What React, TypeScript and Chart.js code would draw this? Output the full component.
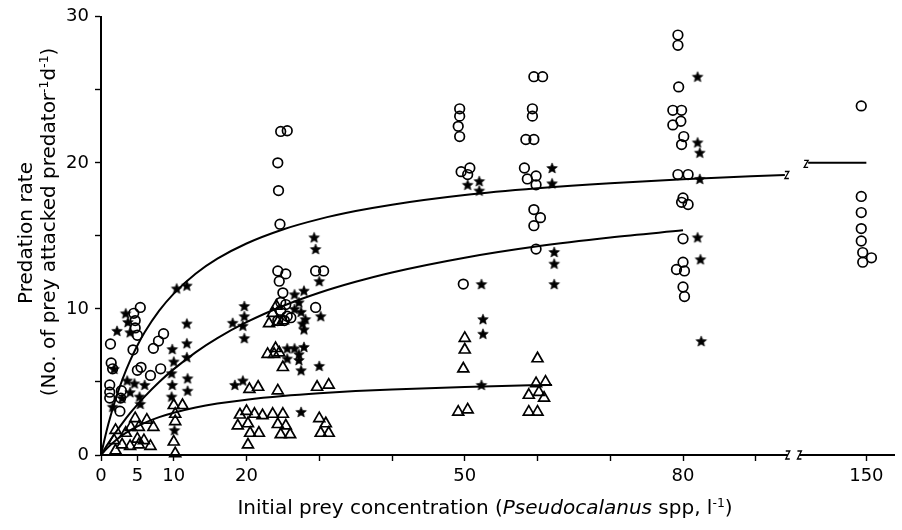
import React, { useEffect, useRef } from 'react';
import { Chart, registerables } from 'chart.js';
Chart.register(...registerables);

// ---------- data (x = initial prey concentration, y = predation rate) ----------
const circlePts: [number, number][] = [
  [1.3, 7.6], [1.4, 6.3], [1.6, 5.9], [1.2, 4.8], [1.2, 4.3], [1.2, 3.9], [2.8, 4.4], [2.7, 3.9], [2.6, 3.0],
  [4.5, 9.7], [5.4, 10.1], [4.7, 9.2], [4.7, 8.7], [5.0, 8.2], [4.4, 7.2],
  [5.0, 5.8], [5.5, 6.0], [6.8, 5.45], [8.2, 5.9], [7.2, 7.3], [7.9, 7.8], [8.6, 8.3],
  [24.7, 22.15], [25.6, 22.2], [24.3, 20.0], [24.4, 18.1], [24.6, 15.8], [24.3, 12.6], [25.4, 12.4], [24.5, 11.9],
  [25.0, 11.1], [24.7, 10.45], [25.4, 10.3], [24.7, 9.9], [25.6, 9.5], [24.3, 9.2], [25.2, 9.2], [26.1, 9.4],
  [29.5, 12.6], [30.6, 12.6], [29.5, 10.1],
  [49.3, 23.7], [49.3, 23.2], [49.1, 22.5], [49.3, 21.8], [49.5, 19.4], [50.7, 19.65], [50.4, 19.2], [49.8, 11.7],
  [59.5, 25.9], [60.7, 25.9], [59.3, 23.7], [59.3, 23.2], [58.4, 21.6], [59.5, 21.6], [58.2, 19.65], [58.6, 18.9],
  [59.8, 19.1], [59.8, 18.5], [59.5, 16.8], [60.4, 16.25], [59.5, 15.7], [59.8, 14.1],
  [79.3, 28.75], [79.3, 28.05], [79.4, 25.2], [78.6, 23.6], [79.8, 23.6], [78.6, 22.6], [79.7, 22.85], [80.1, 21.8],
  [79.8, 21.25], [79.3, 19.2], [80.7, 19.2], [80.0, 17.6], [80.7, 17.15], [79.8, 17.3], [80.0, 14.8], [80.0, 13.2],
  [79.1, 12.7], [80.2, 12.6], [80.0, 11.5], [80.2, 10.85],
  [149.3, 23.9], [149.3, 17.7], [149.3, 16.6], [149.3, 15.5], [149.3, 14.65], [149.5, 13.86], [150.7, 13.5], [149.5, 13.2],
];

const starPts: [number, number][] = [
  [3.4, 9.7], [3.7, 9.1], [2.2, 8.5], [4.0, 8.4], [1.8, 5.9], [3.6, 5.1], [4.6, 4.9], [6.0, 4.8], [4.0, 4.3],
  [5.3, 4.0], [2.9, 3.9], [1.6, 3.3], [5.4, 3.5],
  [10.4, 11.4], [11.8, 11.6], [9.8, 7.25], [10.0, 6.4], [9.7, 5.6], [9.8, 4.8], [9.7, 4.0], [10.1, 1.7],
  [11.8, 9.0], [11.8, 7.65], [11.8, 6.7], [11.9, 5.25], [11.9, 4.4],
  [19.7, 10.2], [19.7, 9.5], [18.1, 9.05], [19.5, 8.85], [19.7, 8.0], [18.4, 4.8], [19.5, 5.1],
  [26.6, 11.0], [27.9, 11.25], [27.2, 10.45], [26.6, 10.0], [27.5, 9.8], [28.1, 9.3], [27.7, 9.0], [27.9, 8.6],
  [27.9, 7.4], [26.6, 7.3], [25.6, 7.3], [27.2, 6.9], [25.6, 6.6], [27.2, 6.5], [27.5, 5.8], [27.5, 2.95],
  [29.3, 14.9], [29.5, 14.1], [30.0, 11.9], [30.2, 9.5], [30.0, 6.1],
  [50.4, 18.5], [52.0, 18.75], [52.0, 18.1], [52.3, 11.7], [52.5, 9.3], [52.5, 8.3], [52.3, 4.8],
  [62.0, 19.65], [62.0, 18.6], [62.3, 13.9], [62.3, 13.1], [62.3, 11.7],
  [82.0, 25.9], [82.0, 21.4], [82.3, 20.7], [82.3, 18.9], [82.0, 14.9], [82.4, 13.4], [82.5, 7.8],
];

const trianglePts: [number, number][] = [
  [2.0, 1.7], [1.8, 1.0], [2.0, 0.3], [3.4, 1.5], [4.7, 2.5], [5.2, 1.9], [6.3, 2.4], [7.2, 1.9], [4.1, 1.9],
  [5.0, 1.1], [5.9, 1.0], [6.8, 0.6], [2.9, 0.7], [5.2, 0.7], [4.0, 0.6],
  [10.0, 3.4], [10.2, 2.8], [10.2, 2.3], [11.2, 3.4], [10.0, 0.9], [10.2, 0.1],
  [20.4, 4.5], [21.6, 4.65], [19.1, 2.75], [20.0, 3.0], [21.1, 2.8], [22.2, 2.7], [18.8, 2.0], [20.2, 2.15],
  [20.5, 1.5], [21.7, 1.5], [20.2, 0.7],
  [24.1, 10.2], [23.6, 9.7], [23.1, 9.0], [24.3, 9.1], [25.0, 9.2], [24.0, 7.3], [22.9, 6.9], [23.8, 6.9],
  [24.5, 7.0], [25.0, 6.0],
  [24.3, 4.4], [29.7, 4.65], [31.3, 4.8],
  [23.6, 2.8], [25.0, 2.8], [24.3, 2.1], [25.4, 2.0], [24.7, 1.4], [26.0, 1.4],
  [30.0, 2.5], [30.9, 2.15], [30.2, 1.5], [31.3, 1.5],
  [50.0, 8.0], [50.0, 7.2], [49.8, 5.9], [49.1, 2.95], [50.4, 3.1],
  [60.0, 6.6], [59.8, 4.9], [61.1, 5.0], [58.8, 4.1], [60.2, 4.3], [60.9, 3.9], [58.8, 2.95], [60.0, 2.95],
];

// fitted curves
const fitTopX = [0, 0.5, 1, 2, 3, 4, 5, 6, 8, 10, 13, 16, 20, 25, 30, 35, 40, 50, 60, 70, 80, 94];
const fitTopY = [0, 1.1, 2.1, 3.82, 5.25, 6.46, 7.5, 8.4, 9.88, 11.05, 12.41, 13.44, 14.48, 15.44, 16.15, 16.7, 17.14, 17.8, 18.26, 18.61, 18.88, 19.17];
const fitTopAfterX = [142, 150];
const fitTopAfterY = [20, 20];
const fitMidX = [0, 0.5, 1, 2, 3, 4, 5, 6, 8, 10, 13, 16, 20, 25, 30, 35, 40, 50, 60, 70, 80];
const fitMidY = [0, 0.41, 0.8, 1.54, 2.22, 2.86, 3.45, 4.0, 5.0, 5.88, 7.03, 8.0, 9.09, 10.2, 11.11, 11.86, 12.5, 13.51, 14.29, 14.89, 15.38];
const fitLowX = [0, 0.5, 1, 2, 3, 4, 5, 6, 8, 10, 13, 16, 20, 25, 30, 35, 40, 50, 60, 62];
const fitLowY = [0, 0.29, 0.55, 1.0, 1.38, 1.69, 1.96, 2.2, 2.59, 2.89, 3.25, 3.52, 3.79, 4.04, 4.23, 4.38, 4.49, 4.66, 4.78, 4.8];

const xTickValues = [0, 5, 10, 20, 30, 40, 50, 60, 70, 80, 90, 150];
const xTickLabels = ['0', '5', '10', '20', '', '', '50', '', '', '80', '', '150'];
const yTickLabelled = [0, 10, 20, 30];

// broken x axis: values beyond the break are shifted left
const BREAK_SHIFT = 44.8;
const brk = (x: number) => (x > 100 ? x - BREAK_SHIFT : x);
const AXIS_BREAK = [94.4, 96.0];

const FONT = '"DejaVu Sans", sans-serif';

function makeStar(r: number): HTMLCanvasElement {
  const size = Math.ceil(r * 2 + 2);
  const c = document.createElement('canvas');
  c.width = size;
  c.height = size;
  const g = c.getContext('2d')!;
  g.translate(size / 2, size / 2 + 0.5);
  g.beginPath();
  for (let i = 0; i < 10; i++) {
    const rr = i % 2 === 0 ? r : r * 0.46;
    const a = -Math.PI / 2 + (i * Math.PI) / 5;
    const px = Math.cos(a) * rr;
    const py = Math.sin(a) * rr;
    if (i === 0) g.moveTo(px, py);
    else g.lineTo(px, py);
  }
  g.closePath();
  g.fillStyle = '#000';
  g.fill();
  g.strokeStyle = '#000';
  g.lineWidth = 0.6;
  g.stroke();
  return c;
}

function drawZ(ctx: CanvasRenderingContext2D, x: number, y: number, h: number) {
  ctx.beginPath();
  ctx.moveTo(x - 2, y - h);
  ctx.lineTo(x + 2, y - h);
  ctx.lineTo(x - 2, y + h);
  ctx.lineTo(x + 2, y + h);
  ctx.stroke();
}

const breakPlugin = {
  id: 'breakMarks',
  afterDraw(chart: any) {
    const { ctx } = chart;
    const xs = chart.scales.x;
    const ys = chart.scales.y;
    const y0 = ys.getPixelForValue(0);
    const a = xs.getPixelForValue(AXIS_BREAK[0]);
    const b = xs.getPixelForValue(AXIS_BREAK[1]);
    ctx.save();
    ctx.fillStyle = '#fff';
    ctx.fillRect(a, y0 - 2.5, b - a, 5);
    ctx.strokeStyle = '#000';
    ctx.lineWidth = 1.3;
    drawZ(ctx, a, y0, 4);
    drawZ(ctx, b, y0, 4);
    // break marks on the top curve
    const endX = xs.getPixelForValue(fitTopX[fitTopX.length - 1]);
    const endY = ys.getPixelForValue(fitTopY[fitTopY.length - 1]);
    drawZ(ctx, endX + 2, endY, 3.5);
    const stX = xs.getPixelForValue(brk(fitTopAfterX[0]));
    const stY = ys.getPixelForValue(fitTopAfterY[0]);
    drawZ(ctx, stX - 2, stY + 1, 3.5);
    ctx.restore();
  },
};

export default function App() {
  const ref = useRef<HTMLCanvasElement>(null);

  useEffect(() => {
    if (!ref.current) return;
    const star = makeStar(5.6);
    const pts = (arr: [number, number][]) => arr.map(([x, y]) => ({ x: brk(x), y }));
    const curve = (xs: number[], ys: number[]) => xs.map((x, i) => ({ x: brk(x), y: ys[i] }));
    const lineDs = (data: any[]) => ({
      type: 'line' as const,
      data,
      showLine: true,
      borderColor: '#000',
      borderWidth: 2,
      pointRadius: 0,
      fill: false,
      cubicInterpolationMode: 'monotone' as const,
      clip: false as any,
    });

    const chart = new Chart(ref.current, {
      type: 'scatter',
      data: {
        datasets: [
          lineDs(curve(fitTopX, fitTopY)),
          lineDs(curve(fitTopAfterX, fitTopAfterY)),
          lineDs(curve(fitMidX, fitMidY)),
          lineDs(curve(fitLowX, fitLowY)),
          {
            data: pts(circlePts),
            pointStyle: 'circle',
            pointRadius: 4.8,
            borderColor: '#000',
            backgroundColor: 'rgba(0,0,0,0)',
            borderWidth: 1.7,
            clip: false as any,
          },
          {
            data: pts(trianglePts),
            pointStyle: 'triangle',
            pointRadius: 6.3,
            borderColor: '#000',
            backgroundColor: 'rgba(0,0,0,0)',
            borderWidth: 1.7,
            clip: false as any,
          },
          {
            data: pts(starPts),
            pointStyle: star as any,
            pointRadius: 5.6,
            borderColor: '#000',
            backgroundColor: '#000',
            clip: false as any,
          },
        ],
      },
      options: {
        animation: false,
        responsive: false,
        events: [],
        layout: { padding: { top: 15, right: 2, left: 0, bottom: 0 } },
        plugins: { legend: { display: false }, tooltip: { enabled: false } },
        scales: {
          x: {
            type: 'linear',
            min: 0,
            max: 109,
            afterFit: (s: any) => { s.height = 75; },
            afterBuildTicks: (s: any) => {
              s.ticks = xTickValues.map((v) => ({ value: brk(v) }));
            },
            border: { display: true, color: '#000', width: 2 },
            grid: { drawOnChartArea: false, drawTicks: true, tickLength: 6, tickColor: '#000', tickWidth: 1.4, color: '#000' },
            ticks: {
              autoSkip: false,
              maxRotation: 0,
              padding: 5,
              color: '#000',
              font: { family: FONT, size: 18 },
              callback: (_v: any, i: number) => xTickLabels[i] ?? '',
            },
          },
          y: {
            type: 'linear',
            min: 0,
            max: 30,
            afterFit: (s: any) => { s.width = 101; },
            border: { display: true, color: '#000', width: 2 },
            grid: { drawOnChartArea: false, drawTicks: true, tickLength: 6, tickColor: '#000', tickWidth: 1.4, color: '#000' },
            ticks: {
              stepSize: 5,
              padding: 6,
              color: '#000',
              font: { family: FONT, size: 18 },
              callback: (v: any) => (yTickLabelled.includes(Number(v)) ? String(v) : ''),
            },
          },
        },
      },
      plugins: [breakPlugin],
    });
    return () => chart.destroy();
  }, []);

  const sup = { fontSize: '0.62em', verticalAlign: '0.6em', lineHeight: 0 } as React.CSSProperties;
  const titleBase: React.CSSProperties = {
    position: 'absolute',
    whiteSpace: 'nowrap',
    font: `20px ${FONT}`,
    color: '#000',
    lineHeight: 1,
  };

  return (
    <div style={{ position: 'absolute', left: 0, top: 0, width: 902, height: 530, background: '#fff', overflow: 'hidden' }}>
      <canvas ref={ref} width={902} height={530} style={{ display: 'block', width: 902, height: 530 }} />
      <div style={{ ...titleBase, left: 485, top: 507, transform: 'translate(-50%,-50%)' }}>
        Initial prey concentration (<i>Pseudocalanus</i> spp, l<span style={sup}>-1</span>)
      </div>
      <div style={{ ...titleBase, left: 25, top: 233, transform: 'translate(-50%,-50%) rotate(-90deg)' }}>
        Predation rate
      </div>
      <div style={{ ...titleBase, left: 48, top: 222, transform: 'translate(-50%,-50%) rotate(-90deg)' }}>
        (No. of prey attacked predator<span style={sup}>-1</span>d<span style={sup}>-1</span>)
      </div>
    </div>
  );
}
